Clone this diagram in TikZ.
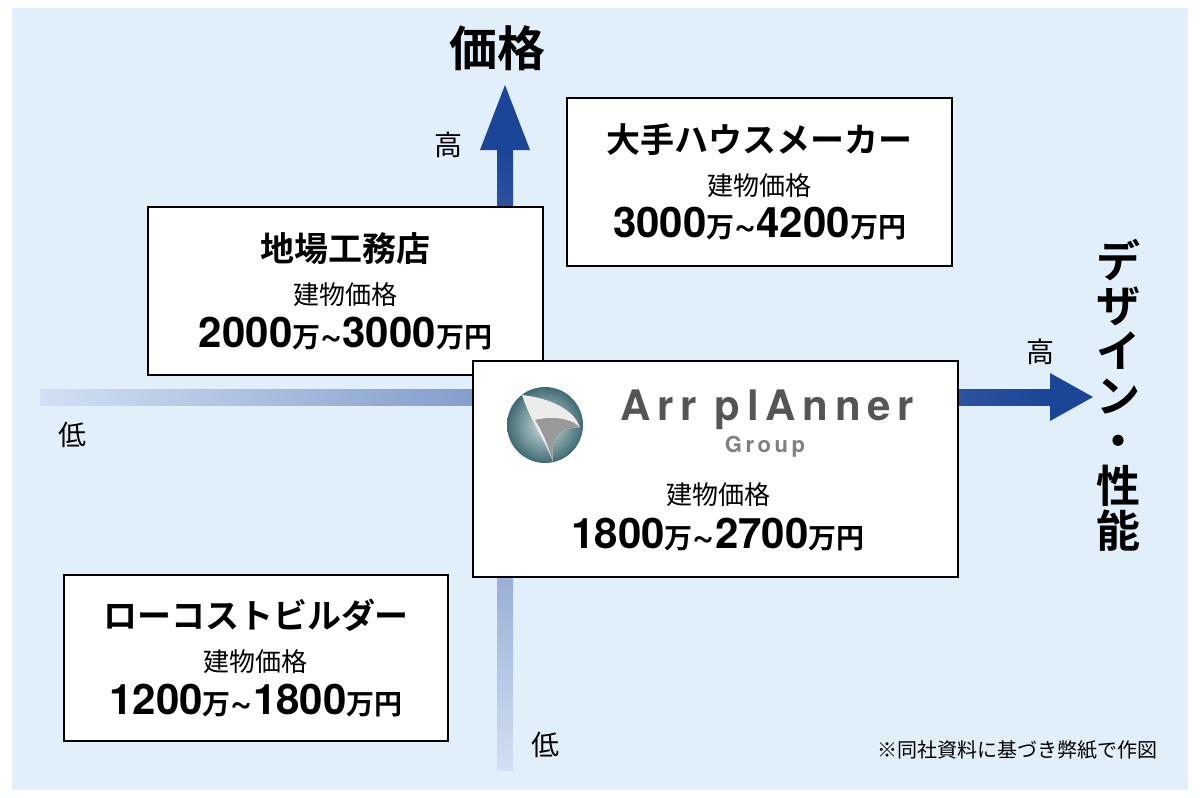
\documentclass[tikz,border=0pt]{standalone}
\usepackage{fontspec}
\setmainfont{Noto Sans CJK JP}[BoldFont={Noto Sans CJK JP Bold}]
\newfontfamily\logofont[LetterSpace=16]{TeX Gyre Heros}
\newfontfamily\numfont{TeX Gyre Heros}
\usetikzlibrary{positioning}
\definecolor{bgblue}{HTML}{E1EFFA}
\definecolor{axisblue}{HTML}{1B4597}
\definecolor{fadeblue}{HTML}{D2E0F3}
\definecolor{logogrey}{HTML}{555555}
\definecolor{tealdark}{HTML}{3F6B73}
\definecolor{teallight}{HTML}{A8C6C8}
\newcommand{\wave}{{\numfont\fontsize{19}{20}\selectfont\symbol{"7E}}}
\newcommand{\yen}[1]{{\normalfont\fontsize{14}{16}\bfseries #1}}
\newcommand{\pricebox}[3]{{\fontsize{17}{20}\bfseries #1}\\[8pt]{\fontsize{13}{16}\selectfont 建物価格}\\[4pt]{\numfont\fontsize{21}{24}\bfseries #2\yen{万}\wave#3\yen{万円}}}
\begin{document}
\begin{tikzpicture}
    [
      x=0.5pt, y=-0.5pt,
      box/.style={draw=black, fill=white, line width=0.8pt, inner sep=0pt},
      boxtext/.style={align=center, inner sep=0pt},
      axislabel/.style={font=\fontsize{14}{16}\selectfont, inner sep=0pt},
      head/.style={fill=axisblue, draw=none}
    ]
    \useasboundingbox (0,0) rectangle (1200,798);
    \fill[bgblue] (12,8) rectangle (1188,790);

    % axes
    \shade[bottom color=fadeblue, top color=axisblue] (497,770) rectangle (513,150);
    \fill[head] (480,150) -- (505,85) -- (530,150) -- (513,150) -- (497,150) -- cycle;
    \shade[left color=fadeblue, right color=axisblue] (40,389) rectangle (1050,405);
    \fill[head] (1050,373) -- (1093,397) -- (1050,421) -- cycle;

    \node (price) [font=\fontsize{24}{26}\bfseries, inner sep=0pt] at (497,48) {価格};
    \node (design) [font=\fontsize{22}{22.5}\bfseries, align=center, inner sep=0pt] at (1118,395)
      {デ\\ザ\\イ\\ン\\・\\性\\能};
    \node (hiy) [axislabel] at (448,145) {高};
    \node (hix) [axislabel] at (1040,352) {高};
    \node (lox) [axislabel] at (72,435) {低};
    \node (loy) [axislabel] at (545,745) {低};

    % boxes
    \node (local) [box, minimum width=197.5pt, minimum height=84pt] at (345.5,291) {};
    \node [boxtext] at (local) {\pricebox{地場工務店}{2000}{3000}};
    \node (major) [box, minimum width=192.5pt, minimum height=84pt] at (759.5,182) {};
    \node [boxtext] at (major) {\pricebox{大手ハウスメーカー}{3000}{4200}};
    \node (lowcost) [box, minimum width=192pt, minimum height=83pt] at (256,658) {};
    \node [boxtext] at (lowcost) {\pricebox{ローコストビルダー}{1200}{1800}};
    \node (arr) [box, line width=1.4pt, minimum width=242.5pt, minimum height=108pt] at (715.5,469) {};

    % logo
    \shade[inner color=teallight!50, outer color=tealdark] (545,425) circle (38);
    \fill[white!85!gray] (522,395) .. controls (550,398) and (575,410) .. (580,428)
      .. controls (560,425) and (550,440) .. (553,462) .. controls (545,440) and (530,420) .. (522,395);
    \fill[gray!80] (535,420) .. controls (555,415) and (575,420) .. (580,428)
      .. controls (560,425) and (550,440) .. (553,462) .. controls (548,445) and (542,430) .. (535,420);
    \node (arrname) [font=\logofont\fontsize{21}{24}\bfseries, text=logogrey, inner sep=0pt] at (767,410) {Arr plAnner};
    \node (arrgroup) [font=\logofont\fontsize{11}{13}\bfseries, text=gray, inner sep=0pt] at (765,447) {Group};
    \node (arrsub) [font=\fontsize{13}{16}\selectfont, inner sep=0pt] at (718,495) {建物価格};
    \node (arrnum) [font=\numfont\fontsize{21}{24}\bfseries, inner sep=0pt] at (718,535)
      {1800\yen{万}\wave2700\yen{万円}};

    \node (note) [font=\fontsize{10}{12}\selectfont, anchor=east, inner sep=0pt] at (1158,750) {※同社資料に基づき弊紙で作図};
  \end{tikzpicture}
\end{document}
